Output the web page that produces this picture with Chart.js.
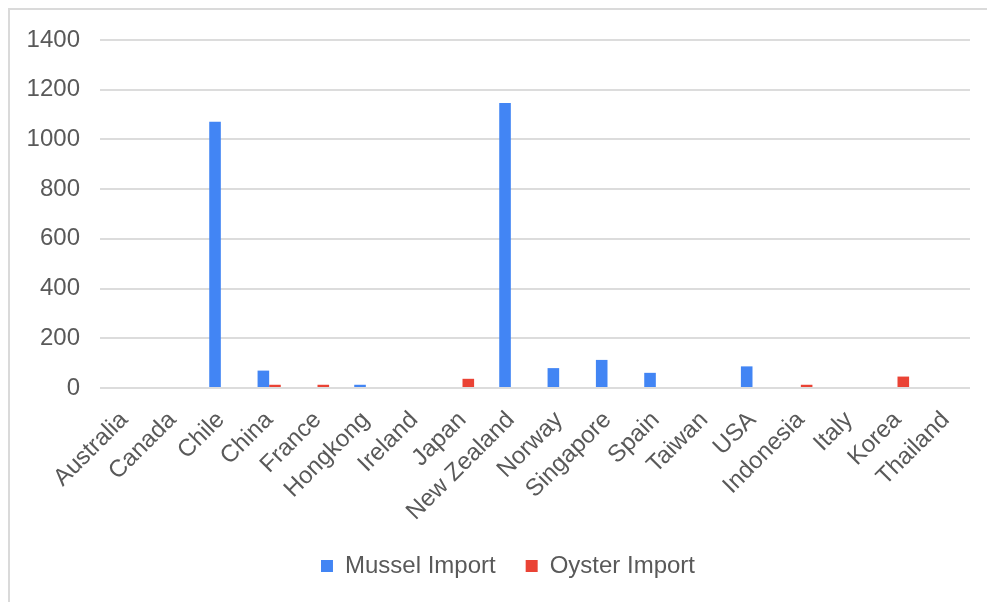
<!DOCTYPE html>
<html>
<head>
<meta charset="utf-8">
<script src="https://cdn.jsdelivr.net/npm/chart.js@4/dist/chart.umd.min.js"></script>
<style>
  html, body { margin: 0; padding: 0; background: #ffffff; }
  #wrap { position: absolute; left: 0; top: 0; width: 987px; height: 602px; }
</style>
</head>
<body>
<div id="wrap"><canvas id="chart" width="987" height="602"></canvas></div>
<script>
// Import volumes by country of origin
const countries = ["Australia", "Canada", "Chile", "China", "France", "Hongkong", "Ireland", "Japan",
  "New Zealand", "Norway", "Singapore", "Spain", "Taiwan", "USA", "Indonesia", "Italy", "Korea", "Thailand"];
const musselImport = [0, 0, 1071, 70, 0, 13, 0, 0, 1147, 80, 113, 61, 0, 87, 0, 0, 0, 0];
const oysterImport = [0, 0, 0, 13, 13, 0, 0, 37, 0, 0, 0, 0, 0, 0, 13, 0, 46, 0];
const yTicks = [0, 200, 400, 600, 800, 1000, 1200, 1400];

const textColor = "#595959";
const gridColor = "#dcdcdc";
const fontFamily = "'Liberation Sans', Arial, sans-serif";

// Light frame along the top and left edges of the chart card
const framePlugin = {
  id: "frame",
  beforeDraw(chart) {
    const ctx = chart.ctx;
    ctx.save();
    ctx.fillStyle = "#ffffff";
    ctx.fillRect(0, 0, chart.width, chart.height);
    ctx.strokeStyle = "#dadada";
    ctx.lineWidth = 2;
    ctx.beginPath();
    ctx.moveTo(9, chart.height);
    ctx.lineTo(9, 9);
    ctx.lineTo(chart.width, 9);
    ctx.stroke();
    ctx.restore();
  },
  // centre the legend row a little to the right of the canvas centre
  afterLayout(chart) {
    const lg = chart.legend;
    if (lg) { lg.left += 46; }
  }
};

new Chart(document.getElementById("chart"), {
  type: "bar",
  data: {
    labels: countries,
    datasets: [
      { label: "Mussel Import", data: musselImport, backgroundColor: "#4285f4",
        categoryPercentage: 0.48, barPercentage: 1.0 },
      { label: "Oyster Import", data: oysterImport, backgroundColor: "#ea4335",
        categoryPercentage: 0.48, barPercentage: 1.0 }
    ]
  },
  options: {
    responsive: false,
    animation: false,
    layout: { padding: { left: 0, right: 17, top: 40, bottom: 14 } },
    plugins: {
      title: { display: false },
      tooltip: { enabled: false },
      legend: {
        position: "bottom",
        labels: {
          color: textColor,
          font: { family: fontFamily, size: 24 },
          boxWidth: 12,
          boxHeight: 12,
          padding: 30
        }
      }
    },
    scales: {
      x: {
        grid: { display: false },
        border: { display: false },
        ticks: {
          color: textColor,
          font: { family: fontFamily, size: 24 },
          minRotation: 45,
          maxRotation: 45,
          autoSkip: false,
          padding: 10
        },
        afterFit(scale) { scale.height = 136; }
      },
      y: {
        min: 0,
        max: 1400,
        afterBuildTicks(scale) { scale.ticks = yTicks.map(v => ({ value: v })); },
        grid: { color: gridColor, lineWidth: 2, drawTicks: false },
        border: { display: false },
        ticks: {
          color: textColor,
          font: { family: fontFamily, size: 24 },
          padding: 20,
          callback: (value) => String(value)
        },
        afterFit(scale) { scale.width = 100; }
      }
    }
  },
  plugins: [framePlugin]
});
</script>
</body>
</html>
